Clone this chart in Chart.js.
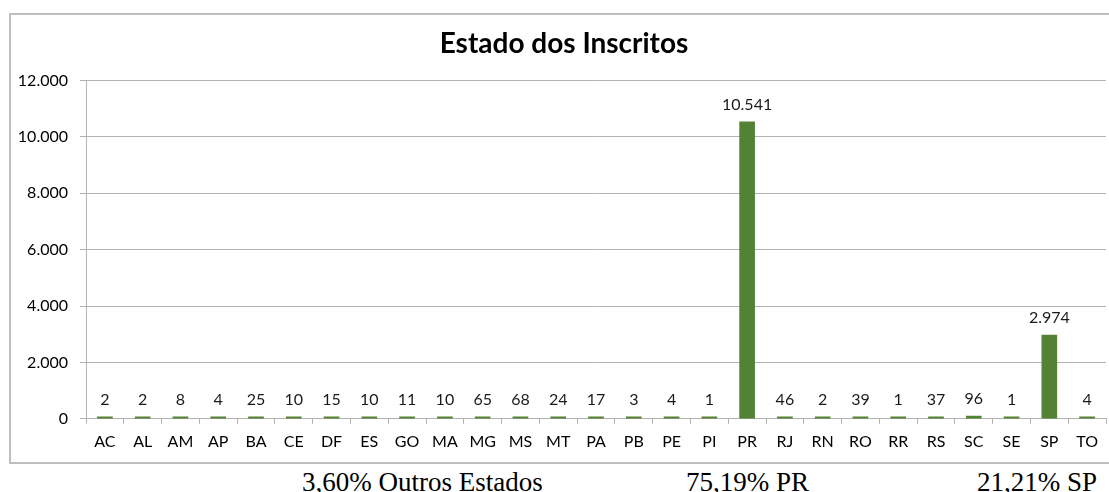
<!DOCTYPE html>
<html>
<head>
<meta charset="utf-8">
<script src="https://cdn.jsdelivr.net/npm/chart.js@4.4.0/dist/chart.umd.min.js"></script>
<style>
    body { margin: 0; background: #fff; width: 1109px; height: 492px; overflow: hidden; position: relative; }
    #frame { position: absolute; left: 9px; top: 13px; width: 1200px; height: 447px; border: 2px solid #bfbfbf; box-sizing: content-box; }
    #wrap { position: absolute; left: 0; top: 0; width: 1109px; height: 462px; }
    .note { position: absolute; top: 469px; font-family: "Liberation Serif", "Times New Roman", serif; font-size: 27px; line-height: 27px; color: #000; white-space: nowrap; }
</style>
</head>
<body>
<div id="frame"></div>
<div id="wrap"><canvas id="chart"></canvas></div>
<div class="note" style="left:302px">3,60% Outros Estados</div>
<div class="note" style="left:686px">75,19% PR</div>
<div class="note" style="left:977px">21,21% SP</div>

<script>
// -- Data --
const estados = ['AC', 'AL', 'AM', 'AP', 'BA', 'CE', 'DF', 'ES', 'GO', 'MA', 'MG', 'MS', 'MT', 'PA',
    'PB', 'PE', 'PI', 'PR', 'RJ', 'RN', 'RO', 'RR', 'RS', 'SC', 'SE', 'SP', 'TO'];
const inscritos = [2, 2, 8, 4, 25, 10, 15, 10, 11, 10, 65, 68, 24, 17,
    3, 4, 1, 10541, 46, 2, 39, 1, 37, 96, 1, 2974, 4];
const yTicks = [0, 2000, 4000, 6000, 8000, 10000, 12000];
const chartTitle = 'Estado dos Inscritos';

// Formats numbers with dot as thousands separator (pt-BR style)
function formatNumber(v) {
    return String(Math.round(v)).replace(/\B(?=(\d{3})+(?!\d))/g, '.');
}

const labelFont = 'Lato, "Open Sans", sans-serif';

// Draws the value above each bar
const valueLabels = {
    id: 'valueLabels',
    afterDatasetsDraw(chart) {
        const ctx = chart.ctx;
        const meta = chart.getDatasetMeta(0);
        ctx.save();
        ctx.font = '16px ' + labelFont;
        ctx.fillStyle = '#1a1a1a';
        ctx.textAlign = 'center';
        ctx.textBaseline = 'middle';
        meta.data.forEach((bar, i) => {
            ctx.fillText(formatNumber(inscritos[i]), bar.x, bar.y - 17);
        });
        ctx.restore();
    }
};

// Nudges the title a bit to the right, the reference centres it on the framed box
const titleShift = {
    id: 'titleShift',
    afterLayout(chart) {
        if (chart.titleBlock) {
            chart.titleBlock.left += 22;
        }
    }
};

const gridColor = '#b3b3b3';
const ctx = document.getElementById('chart').getContext('2d');

new Chart(ctx, {
    type: 'bar',
    data: {
        labels: estados,
        datasets: [{
            label: chartTitle,
            data: inscritos,
            backgroundColor: '#548235',
            barThickness: 15,
            minBarLength: 2
        }]
    },
    options: {
        responsive: true,
        maintainAspectRatio: false,
        animation: false,
        layout: {
            padding: { left: 0, right: 3, top: 0, bottom: 3 }
        },
        scales: {
            x: {
                offset: true,
                grid: {
                    offset: true,
                    drawOnChartArea: false,
                    tickLength: 5,
                    color: gridColor
                },
                border: { display: true, color: gridColor },
                ticks: {
                    color: '#000',
                    padding: 8,
                    font: { family: labelFont, size: 16 },
                    maxRotation: 0,
                    autoSkip: false
                }
            },
            y: {
                min: 0,
                max: 12000,
                afterBuildTicks: (scale) => {
                    scale.ticks = yTicks.map(v => ({ value: v }));
                },
                afterFit: (scale) => {
                    scale.width = 86;
                },
                grid: {
                    tickLength: 6,
                    color: gridColor
                },
                border: { display: true, color: gridColor },
                ticks: {
                    color: '#000',
                    padding: 12,
                    font: { family: labelFont, size: 16 },
                    callback: (v) => formatNumber(v)
                }
            }
        },
        plugins: {
            legend: { display: false },
            tooltip: { enabled: false },
            title: {
                display: true,
                text: chartTitle,
                color: '#000',
                padding: { top: 27, bottom: 20 },
                font: { family: labelFont, size: 28, weight: 'bold' }
            }
        }
    },
    plugins: [valueLabels, titleShift]
});
</script>
</body>
</html>
